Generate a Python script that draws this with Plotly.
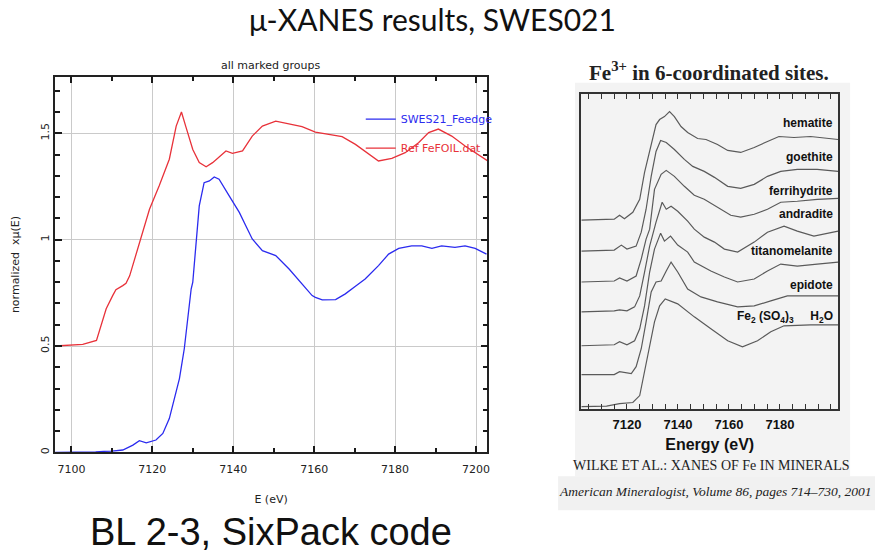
import plotly.graph_objects as go

W, H = 878, 553

# ---------------- Left panel data (SixPack, normalized xmu(E)) ----------------
swes_E = [7096, 7100, 7104, 7106, 7108, 7110, 7112.7, 7115.2, 7116.8, 7118.5, 7120.9,
          7122.6, 7124.2, 7125.4, 7126.7, 7127.9, 7128.7, 7129.6, 7130, 7130.8, 7131.6,
          7132.8, 7134.1, 7135.3, 7136.5, 7139, 7141.5, 7143.1, 7144.7, 7147.2, 7150.5,
          7153.8, 7157, 7159.5, 7160.3, 7162, 7165.3, 7167.7, 7170.2, 7172.6, 7175.9,
          7178.4, 7180.9, 7184.1, 7186.6, 7189.1, 7191.5, 7194.8, 7197.3, 7199.8, 7202.6]
swes_mu = [0.0, 0.0, 0.0, 0.002, 0.005, 0.006, 0.011, 0.034, 0.055, 0.045, 0.058,
           0.089, 0.159, 0.253, 0.347, 0.487, 0.628, 0.768, 0.80, 0.987, 1.159,
           1.268, 1.276, 1.295, 1.284, 1.206, 1.128, 1.065, 1.003, 0.948, 0.925,
           0.862, 0.792, 0.737, 0.729, 0.717, 0.718, 0.745, 0.781, 0.815, 0.878,
           0.932, 0.959, 0.971, 0.971, 0.959, 0.971, 0.964, 0.971, 0.959, 0.932]

fefoil_E = [7096, 7100, 7102.8, 7106.2, 7107, 7108.6, 7110.2, 7111, 7112.7, 7113.5,
            7114.4, 7116.8, 7119.3, 7121.7, 7124.2, 7125.9, 7127.2, 7128.3, 7130,
            7131.6, 7133.3, 7134.9, 7138.2, 7139.8, 7142.3, 7144.7, 7147.2, 7150.5,
            7153.8, 7157, 7160.3, 7163.6, 7166.9, 7170.2, 7173.5, 7175.9, 7179.2,
            7182.5, 7185.8, 7188.3, 7190.7, 7194, 7197.3, 7200.6, 7202.9]
fefoil_mu = [0.50, 0.505, 0.508, 0.526, 0.58, 0.675, 0.737, 0.765, 0.784, 0.795,
             0.83, 0.987, 1.143, 1.253, 1.378, 1.534, 1.60, 1.53, 1.424,
             1.362, 1.343, 1.362, 1.417, 1.406, 1.417, 1.487, 1.534, 1.557,
             1.542, 1.531, 1.506, 1.495, 1.484, 1.448, 1.401, 1.37, 1.382,
             1.409, 1.456, 1.503, 1.52, 1.487, 1.44, 1.401, 1.37]

# ---------------- Right panel data (Wilke et al., stacked spectra, a.u.) ----------------
hem_E = [7102.1, 7115, 7117.1, 7119, 7122.3, 7125.0, 7126.9, 7129.5, 7131.4, 7132.8, 7134.7,
         7136.7, 7138.6, 7141.2, 7143.8, 7147.7, 7151.0, 7155.5, 7159.5, 7164.6, 7169.9,
         7175.1, 7179.6, 7185.5, 7192.0, 7202.8]
hem_y = [1.89, 1.90, 1.94, 1.905, 1.97, 2.10, 2.37, 2.63, 2.85, 2.90, 2.93,
         2.98, 2.93, 2.83, 2.77, 2.71, 2.70, 2.65, 2.59, 2.57, 2.62,
         2.68, 2.73, 2.72, 2.73, 2.70]

goe_E = [7102.1, 7115, 7117.8, 7120, 7123.6, 7125.6, 7127.5, 7129.5, 7131.4, 7133.2, 7135.4,
         7138.6, 7142.5, 7145.8, 7150.3, 7154.3, 7159.5, 7164.6, 7169.9, 7175.1, 7180.3,
         7186.8, 7194.6, 7202.8]
goe_y = [1.58, 1.59, 1.64, 1.60, 1.63, 1.77, 2.00, 2.33, 2.58, 2.69, 2.67,
         2.60, 2.50, 2.43, 2.38, 2.32, 2.23, 2.21, 2.25, 2.33, 2.38,
         2.40, 2.40, 2.38]

fer_E = [7102.1, 7115, 7117.1, 7120, 7123.6, 7125.6, 7127.5, 7128.9, 7130.8, 7133.4, 7135.4,
         7138.6, 7142.5, 7146.4, 7150.3, 7155.5, 7160.7, 7164.6, 7169.9, 7175.1, 7180.3,
         7186.8, 7194.6, 7202.8]
fer_y = [1.27, 1.28, 1.31, 1.28, 1.33, 1.50, 1.70, 1.80, 2.20, 2.35, 2.39,
         2.33, 2.23, 2.14, 2.10, 2.02, 1.94, 1.92, 1.95, 2.00, 2.07,
         2.08, 2.10, 2.11]

and_E = [7102.1, 7115, 7117.1, 7120, 7123.0, 7125.0, 7126.9, 7128.9, 7131.4, 7133.8, 7135.4,
         7137.3, 7139.9, 7143.8, 7146.4, 7150.3, 7154.3, 7158.2, 7163.4, 7169.9, 7175.1,
         7181.6, 7186.8, 7193.3, 7202.8]
and_y = [0.97, 0.98, 0.99, 0.98, 1.02, 1.13, 1.37, 1.63, 1.87, 2.07, 2.00,
         2.03, 1.98, 1.88, 1.80, 1.72, 1.67, 1.60, 1.57, 1.67, 1.77,
         1.83, 1.78, 1.73, 1.78]

tit_E = [7102.1, 7115, 7117.1, 7120, 7123.0, 7125.0, 7126.9, 7128.9, 7130.8, 7133.2, 7134.7,
         7137.1, 7139.9, 7143.8, 7146.4, 7152.9, 7158.2, 7163.4, 7169.9, 7175.1, 7180.3,
         7186.8, 7194.6, 7202.8]
tit_y = [0.63, 0.64, 0.67, 0.64, 0.68, 0.80, 1.03, 1.37, 1.60, 1.76, 1.68,
         1.73, 1.64, 1.57, 1.47, 1.38, 1.32, 1.27, 1.30, 1.38, 1.45,
         1.43, 1.45, 1.47]

epi_E = [7102.1, 7115, 7117.1, 7121.7, 7123.6, 7125.6, 7127.5, 7129.5, 7131.4, 7133.4, 7135.4,
         7137.3, 7139.9, 7143.8, 7149.0, 7155.5, 7163.4, 7169.9, 7176.4, 7182.9, 7192.0,
         7202.8]
epi_y = [0.34, 0.34, 0.37, 0.35, 0.42, 0.60, 0.87, 1.17, 1.27, 1.28, 1.38,
         1.47, 1.37, 1.20, 1.12, 1.07, 1.02, 1.03, 1.08, 1.13, 1.13,
         1.13]

sul_E = [7102.1, 7112, 7117.1, 7122.3, 7125.0, 7126.9, 7128.9, 7130.8, 7132.8, 7135.0, 7139.9,
         7146.4, 7152.9, 7159.5, 7165.3, 7171.2, 7176.4, 7181.6, 7192.0, 7202.8]
sul_y = [0.02, 0.025, 0.05, 0.06, 0.13, 0.37, 0.63, 0.87, 1.03, 1.10, 1.05,
         0.92, 0.80, 0.68, 0.62, 0.68, 0.77, 0.83, 0.84, 0.84]

right_names = ["hematite", "goethite", "ferrihydrite", "andradite", "titanomelanite",
               "epidote", "Fe<sub>2</sub> (SO<sub>4</sub>)<sub>3</sub>     H<sub>2</sub>O"]
right_label_y = [2.87, 2.52, 2.18, 1.95, 1.58, 1.24, 0.92]
right_tick_E = [7105, 7110, 7115, 7120, 7125, 7130, 7135, 7140, 7145, 7150, 7155, 7160,
                7165, 7170, 7175, 7180, 7185, 7190, 7195, 7200]
right_tick_labels = ["", "", "", "7120", "", "", "", "7140", "", "", "", "7160",
                     "", "", "", "7180", "", "", "", ""]

# ---------------- geometry ----------------
def px(x):
    return x / W

def py(y):
    return 1 - y / H

fig = go.Figure()

blue = "#2b2bef"
red = "#e8323a"
fig.add_trace(go.Scatter(x=swes_E, y=swes_mu, mode="lines", line=dict(color=blue, width=1.3),
                         name="<span style='color:%s'>SWES21_Feedge</span>" % blue,
                         legendgroup="a", xaxis="x", yaxis="y"))
fig.add_trace(go.Scatter(x=fefoil_E, y=fefoil_mu, mode="lines", line=dict(color=red, width=1.3),
                         name="<span style='color:%s'>Ref FeFOIL.dat</span>" % red,
                         legendgroup="b", xaxis="x", yaxis="y"))

gray = "#5a5a5a"
for E, Y in [(hem_E, hem_y), (goe_E, goe_y), (fer_E, fer_y), (and_E, and_y),
             (tit_E, tit_y), (epi_E, epi_y), (sul_E, sul_y)]:
    fig.add_trace(go.Scatter(x=E, y=Y, mode="lines", line=dict(color=gray, width=1.2),
                             showlegend=False, xaxis="x2", yaxis="y2"))

sp_font = dict(family="DejaVu Sans", size=11, color="#222")
TC = "#1a1a1a"

fig.update_layout(
    width=W, height=H, margin=dict(l=0, r=0, t=0, b=0),
    paper_bgcolor="white", plot_bgcolor="rgba(0,0,0,0)",
    showlegend=True,
    legend=dict(x=px(362), y=py(105), xanchor="left", yanchor="top",
                bgcolor="rgba(0,0,0,0)", font=sp_font, traceorder="grouped",
                tracegroupgap=10),
    xaxis=dict(domain=[px(55), px(489)], range=[7095.9, 7202.8], anchor="y",
               tick0=7100, dtick=20, ticks="inside", ticklen=7, tickwidth=1.5,
               tickcolor=TC, showline=True, linecolor="#222", linewidth=1.5,
               mirror="ticks", showgrid=True, gridcolor="#cacaca", gridwidth=1,
               zeroline=False, tickfont=sp_font, ticklabelstandoff=6,
               minor=dict(dtick=10, tick0=7100, ticks="inside", ticklen=5,
                          tickwidth=1.5, tickcolor=TC, showgrid=False),
               title=dict(text="E (eV)", font=sp_font, standoff=20)),
    yaxis=dict(domain=[py(454), py(77)], range=[0, 1.766], anchor="x",
               tick0=0, dtick=0.5, tickangle=-90,
               ticks="inside", ticklen=7, tickwidth=1.5, tickcolor=TC,
               showline=True, linecolor="#222", linewidth=1.5, mirror="ticks",
               showgrid=True, gridcolor="#cacaca", gridwidth=1, zeroline=False,
               tickfont=sp_font,
               minor=dict(dtick=0.1, tick0=0, ticks="inside", ticklen=5,
                          tickwidth=1.5, tickcolor=TC, showgrid=False),
               title=dict(text="normalized  x\u03bc(E)", font=sp_font, standoff=17)),
    xaxis2=dict(domain=[px(583.3), px(841)], range=[7102.1, 7202.8], anchor="y2",
                tickvals=right_tick_E, ticktext=right_tick_labels,
                ticks="inside", ticklen=5, tickwidth=1.2,
                tickcolor="#333", showline=True, linecolor="#333", linewidth=1.5,
                mirror="ticks", showgrid=False, zeroline=False,
                tickfont=dict(family="Liberation Sans", size=13, color="#111", weight="bold"),
                ticklabelstandoff=3,
                title=dict(text="<b>Energy (eV)</b>", standoff=8,
                           font=dict(family="Liberation Sans", size=16, color="#111"))),
    yaxis2=dict(domain=[py(410), py(94.3)], range=[0, 3.157], anchor="x2",
                showticklabels=False, ticks="", showline=True, linecolor="#333",
                linewidth=1.5, mirror=True, showgrid=False, zeroline=False),
)

shapes = [
    dict(type="rect", xref="paper", yref="paper", x0=px(577), x1=px(853),
         y0=py(478), y1=py(83), fillcolor="#f3f3f3", line=dict(width=0), layer="below"),
    dict(type="rect", xref="paper", yref="paper", x0=px(560), x1=px(878),
         y0=py(512), y1=py(478), fillcolor="#f1f1f1", line=dict(width=0), layer="below"),
]
fig.update_layout(shapes=shapes)

ann = []
ann.append(dict(text="\u03bc-XANES results, SWES021", x=px(434), y=1.0, xref="paper",
                yref="paper", showarrow=False, xanchor="center", yanchor="top",
                borderpad=0, font=dict(family="Lato", size=30, color="#111")))
ann.append(dict(text="all marked groups", x=px(272), y=py(66), xref="paper", yref="paper",
                showarrow=False, xanchor="center", yanchor="middle", font=sp_font))
ann.append(dict(text="BL 2-3, SixPack code", x=px(272), y=py(534), xref="paper",
                yref="paper", showarrow=False, xanchor="center", yanchor="middle",
                font=dict(family="Liberation Sans", size=38, color="#111")))
ann.append(dict(text="<b>Fe<sup>3+</sup> in 6-coordinated sites.</b>", x=px(711), y=py(72),
                xref="paper", yref="paper", showarrow=False, xanchor="center",
                yanchor="middle", font=dict(family="Liberation Serif", size=21, color="#222")))
ann.append(dict(text="WILKE ET AL.: XANES OF Fe IN MINERALS", x=px(714), y=py(467),
                xref="paper", yref="paper", showarrow=False, xanchor="center",
                yanchor="middle", font=dict(family="Liberation Serif", size=14, color="#222")))
ann.append(dict(text="<i>American Mineralogist, Volume 86, pages 714\u2013730, 2001</i>",
                x=px(718), y=py(493), xref="paper", yref="paper", showarrow=False,
                xanchor="center", yanchor="middle",
                font=dict(family="Liberation Serif", size=13.5, color="#222")))
for name, yy in zip(right_names, right_label_y):
    ann.append(dict(text="<b>%s</b>" % name, x=7201.4, y=yy, xref="x2", yref="y2",
                    showarrow=False, xanchor="right", yanchor="middle",
                    font=dict(family="Liberation Sans", size=12, color="#111")))
fig.update_layout(annotations=ann)

fig.write_html("out.html")
